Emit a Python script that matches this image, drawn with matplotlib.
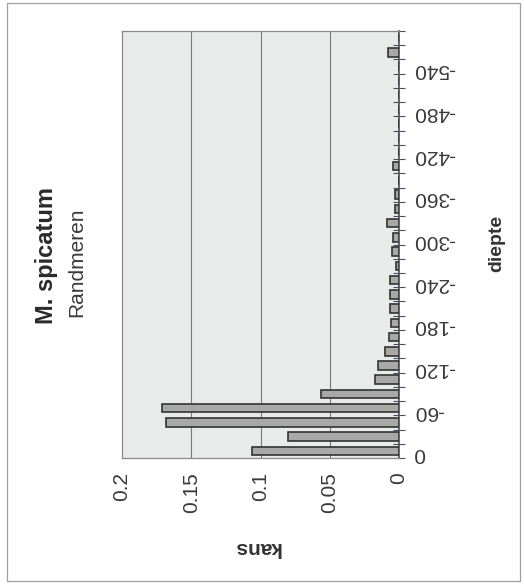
import numpy as np
import matplotlib
matplotlib.use("Agg")
import matplotlib.pyplot as plt
from matplotlib.patches import Rectangle
from matplotlib.transforms import ScaledTranslation

# depth classes (cm) and probability per class
depth = [0, -20, -40, -60, -80, -100, -120, -140, -160, -180,
         -200, -220, -240, -260, -280, -300, -320, -340, -360, -380,
         -400, -420, -440, -460, -480, -500, -520, -540, -560, -580]
kans = [0.106, 0.080, 0.168, 0.171, 0.056, 0.017, 0.015, 0.010, 0.007, 0.006,
        0.0065, 0.0065, 0.0065, 0.002, 0.005, 0.004, 0.009, 0.003, 0.003, 0.0,
        0.004, 0.0, 0.0, 0.0, 0.0, 0.0, 0.0, 0.0, 0.008, 0.0]

kans_ticks = [0.2, 0.15, 0.1, 0.05, 0]
kans_labels = ["0.2", "0.15", "0.1", "0.05", "0"]
label_every = 3

title = "M. spicatum"
subtitle = "Randmeren"
xlabel = "diepte"
ylabel = "kans"

W, H = 524, 585


def fx(px):
    return px / W


def fy(py):
    return 1 - py / H


def main():
    plt.rcParams['font.family'] = ['Liberation Sans', 'DejaVu Sans']
    fig = plt.figure(figsize=(W / 100, H / 100), dpi=100)
    fig.patch.set_facecolor('white')

    # thin frame round the whole chart
    fig.add_artist(Rectangle((fx(7), fy(581)), fx(520) - fx(7), fy(3) - fy(581),
                             transform=fig.transFigure, fill=False,
                             edgecolor='#a0a0a0', lw=0.9))

    left, right, top, bottom = 122, 399, 31, 458
    ax = fig.add_axes([fx(left), fy(bottom), fx(right) - fx(left), fy(top) - fy(bottom)])
    ax.set_facecolor('#e9ebeb')

    pos = np.arange(len(depth))
    ax.barh(pos, kans, height=0.6, color='#a8a8a8', edgecolor='#333333', lw=1.2, zorder=3)

    ax.set_xlim(0.2, 0)
    ax.set_ylim(-0.5, len(depth) - 0.5)

    for v in [0.05, 0.1, 0.15]:
        ax.axvline(v, color='#7a7a7a', lw=0.8, zorder=1)

    for side in ['left', 'top', 'bottom']:
        ax.spines[side].set_color('#8a8a8a')
        ax.spines[side].set_linewidth(0.9)
    ax.spines['right'].set_color('#4c4c60')
    ax.spines['right'].set_linewidth(1.2)

    ax.set_xticks(kans_ticks)
    ax.set_xticklabels(kans_labels, rotation=90, ha='center', va='top',
                       fontsize=15, color='#3a3a3a')
    ax.tick_params(axis='x', length=0, pad=10)

    # depth ticks sit on the class boundaries, labelled every third class
    bounds = np.arange(len(depth) + 1) - 0.5
    blabels = [str(depth[k]) if k < 28 and k % label_every == 0 else ''
               for k in range(len(bounds))]
    ax.yaxis.tick_right()
    ax.set_yticks(bounds)
    ax.set_yticklabels(blabels, rotation=180, ha='left', va='center',
                       fontsize=15, color='#3a3a3a')
    ax.tick_params(axis='y', direction='inout', length=9, width=0.8,
                   color='#4c4c60', pad=6, left=False, right=True)
    shift = ScaledTranslation(0, 0.04, fig.dpi_scale_trans)
    for lab in ax.get_yticklabels():
        lab.set_transform(lab.get_transform() + shift)

    fig.text(fx(46), fy(255), title, rotation=90, ha='center', va='center',
             fontsize=17, fontweight='bold', color='#2a2a2a')
    fig.text(fx(77), fy(262), subtitle, rotation=90, ha='center', va='center',
             fontsize=15, color='#3a3a3a')
    fig.text(fx(497), fy(243), xlabel, rotation=90, ha='center', va='center',
             fontsize=14, fontweight='bold', color='#333333')
    fig.text(fx(257), fy(547), ylabel, rotation=180, ha='center', va='center',
             fontsize=15, fontweight='bold', color='#333333')

    fig.savefig('out.png', dpi=100)


if __name__ == "__main__":
    main()
